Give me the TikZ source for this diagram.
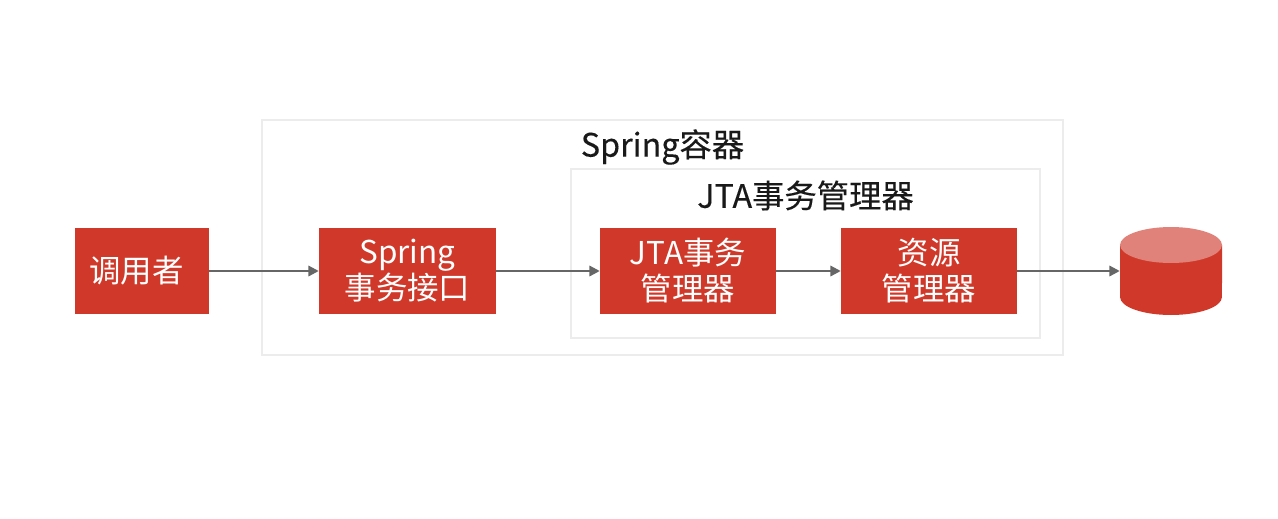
\documentclass[tikz,border=0pt]{standalone}
\usepackage{fontspec}
\setmainfont{Noto Sans CJK SC}
\newfontfamily\titlefont[FakeBold=0.25]{Noto Sans CJK SC}
\definecolor{boxred}{RGB}{208, 57, 42}
\definecolor{topred}{RGB}{224, 130, 121}
\definecolor{linegray}{RGB}{102, 102, 102}
\definecolor{framegray}{RGB}{236, 236, 236}
\usetikzlibrary{arrows.meta, positioning}

\tikzset{
  redbox/.style={fill=boxred, text=white, font=\fontsize{17.9pt}{20.5pt}\selectfont, align=center, inner sep=0pt, minimum height=1.72cm},
  framebox/.style={draw=framegray, line width=1.1pt, fill=white, inner sep=0pt},
  flowline/.style={draw=linegray, line width=0.85pt, -{Triangle[length=5.8pt, width=6pt]}},
  titletext/.style={font=\titlefont\fontsize{18.4pt}{20.5pt}\selectfont, text=black!90, inner sep=0pt}
}

\begin{document}
\begin{tikzpicture}[x=0.02cm, y=-0.02cm]
  \useasboundingbox (0, 0) rectangle (1278, 518);
  \fill[white] (0, 0) rectangle (1278, 518);

  % frames
  \node[framebox, minimum width=16.02cm, minimum height=4.7cm] (springframe) at (662.5, 237.5) {};
  \node[framebox, minimum width=9.38cm, minimum height=3.38cm] (jtaframe) at (805.5, 253.5) {};
  \node[titletext] (springtitle) at (662.5, 147) {Spring容器};
  \node[titletext] (jtatitle) at (805.5, 195.5) {JTA事务管理器};

  % boxes
  \node[redbox, minimum width=2.68cm] (caller) at (142, 271) {调用者\hspace{0.22cm}};
  \node[redbox, minimum width=3.54cm] (springapi) at (407.5, 271) {Spring\\事务接口};
  \node[redbox, minimum width=3.52cm] (jtamgr) at (688, 271) {JTA事务\\管理器};
  \node[redbox, minimum width=3.52cm] (resmgr) at (929, 271) {资源\\管理器};

  % database
  \node[inner sep=0pt, minimum width=2.04cm, minimum height=1.76cm] (db) at (1171, 271) {};
  \fill[boxred] (1120, 245) -- (1120, 297) arc (180:360:1.02cm and 0.36cm) -- (1222, 245) -- cycle;
  \fill[topred] (1171, 245) ellipse (1.02cm and 0.36cm);

  % connectors
  \draw[flowline] (caller) -- (springapi);
  \draw[flowline] (springapi) -- (jtamgr);
  \draw[flowline] (jtamgr) -- (resmgr);
  \draw[flowline] (resmgr) -- (db);
\end{tikzpicture}
\end{document}
